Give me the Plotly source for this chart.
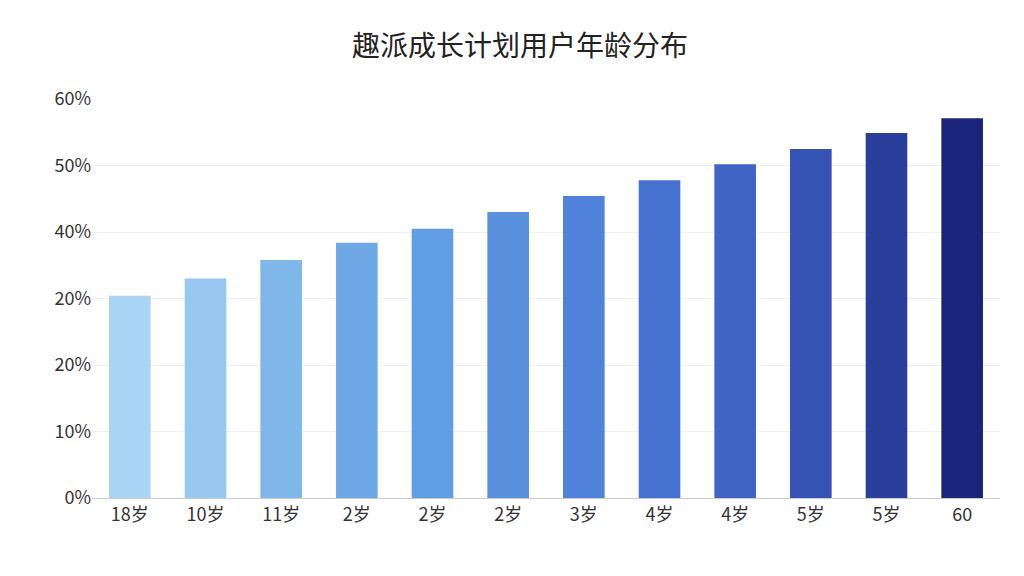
import plotly.graph_objects as go

categories = ["18岁","10岁","11岁","2岁","2岁","2岁","3岁","4岁","4岁","5岁","5岁","60"]
values = [30.4, 33.0, 35.8, 38.4, 40.5, 43.0, 45.4, 47.8, 50.2, 52.5, 54.9, 57.1]
ytick_vals = [0, 10, 20, 30, 40, 50, 60]
ytick_text = ["0%", "10%", "20%", "20%", "40%", "50%", "60%"]
colors = ["#a9d4f3","#98c8ef","#80b7ea","#6ea8e6","#619de2","#5890dd","#4f82d8",
          "#4673d2","#3f64c6","#3453b3","#2a3f9c","#1a247a"]

x = list(range(len(categories)))
fig = go.Figure(go.Bar(x=x, y=values, width=0.55,
                       marker=dict(color=colors, line=dict(width=0))))
fig.update_layout(
    width=1024, height=576, plot_bgcolor="white", paper_bgcolor="white",
    margin=dict(l=84, r=32, t=91, b=86),
    title=dict(text="趣派成长计划用户年龄分布", x=0.5, y=0.95, xanchor="center",
               font=dict(size=28, color="#222", family="Noto Sans CJK SC")),
    font=dict(family="Noto Sans CJK SC", size=18, color="#333"),
    showlegend=False, bargap=0.45,
)
fig.update_xaxes(tickmode="array", tickvals=x, ticktext=categories,
                 range=[-0.5, len(x)-0.5], showline=True, linecolor="#ccc",
                 ticks="", showgrid=False)
fig.update_yaxes(tickmode="array", tickvals=ytick_vals, ticktext=ytick_text,
                 range=[0, 60], gridcolor="#f0f0f0", zeroline=False, ticks="")
fig.write_html("out.html")
